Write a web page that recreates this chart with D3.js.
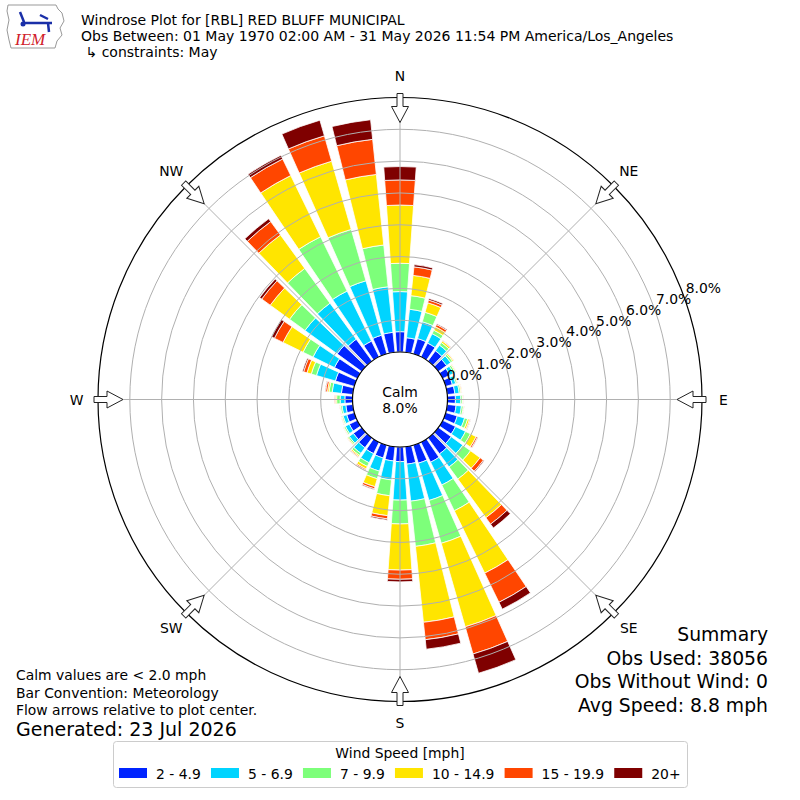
<!DOCTYPE html>
<html>
<head>
<meta charset="utf-8">
<script src="https://cdn.jsdelivr.net/npm/d3@7"></script>
<style>
  body { margin: 0; background: #fff; }
  text { font-family: "DejaVu Sans", sans-serif; fill: #000; }
</style>
</head>
<body>
<div id="chart"></div>
<script>
// wind direction (degrees, where the wind blows from)
var directions = [0, 10, 20, 30, 40, 50, 60, 70, 80, 90, 100, 110,
  120, 130, 140, 150, 160, 170, 180, 190, 200, 210, 220, 230,
  240, 250, 260, 270, 280, 290, 300, 310, 320, 330, 340, 350]

// percent of obs per speed bin, one value per direction
var speed2to5 = [0.64, 0.46, 0.50, 0.48, 0.40, 0.32, 0.25, 0.22, 0.24, 0.25, 0.28, 0.38,
  0.45, 0.50, 0.62, 0.70, 0.59, 0.55, 0.46, 0.45, 0.42, 0.40, 0.38, 0.32,
  0.28, 0.25, 0.22, 0.24, 0.36, 0.62, 0.80, 0.95, 0.85, 0.55, 0.61, 0.63]
var speed5to7 = [1.26, 0.90, 0.55, 0.33, 0.22, 0.16, 0.13, 0.11, 0.14, 0.17, 0.17, 0.24,
  0.35, 0.45, 0.51, 0.80, 1.22, 1.17, 1.21, 0.60, 0.43, 0.32, 0.22, 0.16,
  0.14, 0.12, 0.12, 0.15, 0.29, 0.62, 0.75, 1.25, 1.40, 1.75, 1.78, 1.44]
var speed7to10 = [0.89, 0.43, 0.31, 0.12, 0.10, 0.07, 0.06, 0.05, 0.05, 0.05, 0.06, 0.10,
  0.17, 0.30, 0.47, 0.90, 1.40, 1.43, 0.75, 0.50, 0.25, 0.13, 0.08, 0.05,
  0.05, 0.04, 0.05, 0.11, 0.10, 0.17, 0.35, 0.60, 1.35, 1.90, 1.68, 1.32]
var speed10to15 = [1.83, 0.64, 0.31, 0.12, 0.06, 0.04, 0.03, 0.02, 0.03, 0.02, 0.02, 0.06,
  0.20, 0.37, 1.50, 2.18, 2.73, 2.40, 1.45, 0.63, 0.26, 0.09, 0.04, 0.03,
  0.02, 0.02, 0.02, 0.04, 0.05, 0.14, 0.70, 0.75, 1.30, 2.14, 2.23, 2.23]
var speed15to20 = [0.79, 0.27, 0.09, 0.08, 0.02, 0.01, 0.01, 0.01, 0.01, 0.01, 0.01, 0.03,
  0.05, 0.13, 0.25, 1.02, 0.89, 0.55, 0.29, 0.10, 0.07, 0.04, 0.03, 0.01,
  0.01, 0.01, 0.01, 0.03, 0.06, 0.11, 0.30, 0.33, 0.52, 0.58, 0.83, 1.11]
var speed20plus = [0.42, 0.07, 0.05, 0.03, 0.01, 0.00, 0.00, 0.00, 0.00, 0.00, 0.00, 0.01,
  0.02, 0.03, 0.15, 0.24, 0.63, 0.30, 0.08, 0.04, 0.03, 0.02, 0.01, 0.00,
  0.00, 0.00, 0.00, 0.00, 0.02, 0.04, 0.10, 0.08, 0.11, 0.13, 0.51, 0.62]

var binLabels = ['2 - 4.9', '5 - 6.9', '7 - 9.9', '10 - 14.9', '15 - 19.9', '20+']
var binColors = ['#0024ff', '#00d4ff', '#7dff7a', '#ffe500', '#ff4600', '#7f0000']
var ringTicks = [0, 1, 2, 3, 4, 5, 6, 7, 8]
var compass = [['N', 0], ['NE', 45], ['E', 90], ['SE', 135], ['S', 180], ['SW', 225], ['W', 270], ['NW', 315]]

var titleLines = ['Windrose Plot for [RBL] RED BLUFF MUNICIPAL',
  'Obs Between: 01 May 1970 02:00 AM - 31 May 2026 11:54 PM America/Los_Angeles',
  ' \u21b3 constraints: May']
var noteLines = ['Calm values are < 2.0 mph', 'Bar Convention: Meteorology', 'Flow arrows relative to plot center.']
var summaryLines = ['Summary', 'Obs Used: 38056', 'Obs Without Wind: 0', 'Avg Speed: 8.8 mph']
var calmPct = '8.0%'

var cx = 400, cy = 399.5
var keys = ['b0', 'b1', 'b2', 'b3', 'b4', 'b5']
var series = [speed2to5, speed5to7, speed7to10, speed10to15, speed15to20, speed20plus]

var table = directions.map(function (d, i) {
  var row = { dir: d }
  keys.forEach(function (k, j) { row[k] = series[j][i] })
  return row
})
var stacked = d3.stack().keys(keys)(table)

var r = d3.scaleLinear().domain([0, 8]).range([47.5, 302])
var ang = d3.scaleLinear().domain([0, 360]).range([0, 2 * Math.PI])
var half = ang(4)

var svg = d3.select('#chart').append('svg')
  .attr('width', 800).attr('height', 800)

var g = svg.append('g').attr('transform', 'translate(' + cx + ',' + cy + ')')

var arc = d3.arc()
  .innerRadius(function (d) { return r(d[0]) })
  .outerRadius(function (d) { return r(d[1]) })
  .startAngle(function (d) { return ang(d.data.dir) - half })
  .endAngle(function (d) { return ang(d.data.dir) + half })

// bars
g.selectAll('g.bin').data(stacked).enter().append('g')
  .attr('class', 'bin')
  .attr('fill', function (d, i) { return binColors[i] })
  .selectAll('path').data(function (d) { return d.filter(function (p) { return p[1] > p[0] }) })
  .enter().append('path')
  .attr('d', arc)
  .attr('stroke', '#fff')
  .attr('stroke-width', 0.8)

// grid on top
g.selectAll('circle.ring').data(ringTicks.slice(1, 8)).enter().append('circle')
  .attr('r', function (d) { return r(d) })
  .attr('fill', 'none').attr('stroke', '#b0b0b0').attr('stroke-width', 1)

g.selectAll('line.spoke').data(compass).enter().append('line')
  .attr('x1', function (d) { return r(0) * Math.sin(ang(d[1])) })
  .attr('y1', function (d) { return -r(0) * Math.cos(ang(d[1])) })
  .attr('x2', function (d) { return r(8) * Math.sin(ang(d[1])) })
  .attr('y2', function (d) { return -r(8) * Math.cos(ang(d[1])) })
  .attr('stroke', '#b0b0b0').attr('stroke-width', 1)

g.append('circle').attr('r', r(8)).attr('fill', 'none').attr('stroke', '#000').attr('stroke-width', 1.2)
g.append('circle').attr('r', r(0)).attr('fill', '#fff').attr('stroke', '#000').attr('stroke-width', 1.2)

g.append('text').attr('text-anchor', 'middle').attr('y', -3).style('font-size', '13.9px').text('Calm')
g.append('text').attr('text-anchor', 'middle').attr('y', 13).style('font-size', '13.9px').text(calmPct)

// ring labels
var la = 20 * Math.PI / 180
g.selectAll('text.rlab').data(ringTicks).enter().append('text')
  .attr('x', function (d) { return r(d) * Math.cos(la) + 2 })
  .attr('y', function (d) { return -r(d) * Math.sin(la) - 3.3 })
  .style('font-size', '13.9px')
  .text(function (d) { return d.toFixed(1) + '%' })

// compass arrows + labels
var arrowPts = [[-3, -306], [3, -306], [3, -293], [8.5, -293], [0, -277], [-8.5, -293], [-3, -293]]
g.selectAll('polygon.arrow').data(compass).enter().append('polygon')
  .attr('points', arrowPts.map(function (p) { return p.join(',') }).join(' '))
  .attr('transform', function (d) { return 'rotate(' + d[1] + ')' })
  .attr('fill', '#fff').attr('stroke', '#222').attr('stroke-width', 1)

g.selectAll('text.card').data(compass).enter().append('text')
  .attr('x', function (d) { return 323.5 * Math.sin(ang(d[1])) })
  .attr('y', function (d) { return -323.5 * Math.cos(ang(d[1])) + 5 })
  .attr('text-anchor', 'middle')
  .style('font-size', '13.9px')
  .text(function (d) { return d[0] })

// title
svg.selectAll('text.title').data(titleLines).enter().append('text')
  .attr('x', 81).attr('y', function (d, i) { return 25 + i * 16 })
  .style('font-size', '14px').attr('xml:space', 'preserve')
  .text(function (d) { return d })

// logo
var logo = svg.append('g')
logo.append('path')
  .attr('d', 'M8,5 L56,5 L58,9 L62,13 L64,21 L60,28 L62,35 L57,41 L55,48 L11,48 L9,40 L7,30 L9,20 L7,11 Z')
  .attr('fill', '#fff').attr('stroke', '#999').attr('stroke-width', 1)
logo.append('path').attr('d', 'M23,23 L52,23 M40,15 L48,19 M48,23 L49,32 M20,12 L24,22')
  .attr('stroke', '#1a2fa8').attr('stroke-width', 2.5).attr('fill', 'none')
logo.append('circle').attr('cx', 23).attr('cy', 24).attr('r', 2.5).attr('fill', '#1a2fa8')
logo.append('text').attr('x', 15).attr('y', 45)
  .style('font-family', '"Liberation Serif", serif').style('font-style', 'italic')
  .style('font-size', '17px').style('fill', '#d0202a').text('IEM')

// notes bottom left
svg.selectAll('text.note').data(noteLines).enter().append('text')
  .attr('x', 16).attr('y', function (d, i) { return 680 + i * 17.5 })
  .style('font-size', '13.9px').text(function (d) { return d })
svg.append('text').attr('x', 16).attr('y', 736).style('font-size', '19px').text('Generated: 23 Jul 2026')

// summary bottom right
svg.selectAll('text.sum').data(summaryLines).enter().append('text')
  .attr('x', 768).attr('y', function (d, i) { return 641 + i * 23.5 })
  .attr('text-anchor', 'end')
  .style('font-size', '18.8px').text(function (d) { return d })

// legend
var leg = svg.append('g')
leg.append('rect').attr('x', 113.5).attr('y', 741.5).attr('width', 574).attr('height', 46)
  .attr('rx', 3).attr('fill', '#fff').attr('stroke', '#ccc').attr('stroke-width', 1)
leg.append('text').attr('x', 400).attr('y', 758).attr('text-anchor', 'middle')
  .style('font-size', '13.9px').text('Wind Speed [mph]')
var lx = 119
binLabels.forEach(function (lab, i) {
  leg.append('rect').attr('x', lx).attr('y', 768).attr('width', 28).attr('height', 10).attr('fill', binColors[i])
  var t = leg.append('text').attr('x', lx + 37).attr('y', 779).style('font-size', '13.9px').text(lab)
  lx = lx + 37 + t.node().getComputedTextLength() + 10.2
})
</script>
</body>
</html>
